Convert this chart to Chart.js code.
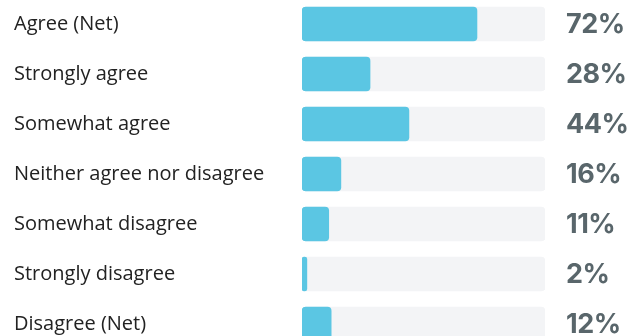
<!DOCTYPE html>
<html>
<head>
<meta charset="utf-8">
<script src="https://cdn.jsdelivr.net/npm/chart.js@4"></script>
<style>
  html, body { margin: 0; padding: 0; background: #fff; overflow: hidden; }
  #wrap { position: absolute; left: 0; top: -2px; width: 641px; height: 352px; }
</style>
</head>
<body>
<div id="wrap"><canvas id="chart"></canvas></div>
<script>
var labels = ['Agree (Net)', 'Strongly agree', 'Somewhat agree', 'Neither agree nor disagree',
              'Somewhat disagree', 'Strongly disagree', 'Disagree (Net)']
var values = [72, 28, 44, 16, 11, 2, 12]
var track = [100, 100, 100, 100, 100, 100, 100]

var valueLabels = {
  id: 'valueLabels',
  afterDatasetsDraw: function (chart) {
    var ctx = chart.ctx
    var meta = chart.getDatasetMeta(0)
    ctx.save()
    ctx.font = '700 27px Inter'
    ctx.letterSpacing = '-0.5px'
    ctx.fillStyle = '#59666b'
    ctx.textAlign = 'left'
    ctx.textBaseline = 'middle'
    meta.data.forEach(function (bar, i) {
      ctx.fillText(values[i] + '%', chart.chartArea.right + 21, bar.y + 1)
    })
    ctx.restore()
  }
}

new Chart(document.getElementById('chart'), {
  type: 'bar',
  data: {
    labels: labels,
    datasets: [{
      data: values,
      backgroundColor: '#5bc6e3',
      borderRadius: 4,
      borderSkipped: false,
      barThickness: 34,
      grouped: false
    }, {
      data: track,
      backgroundColor: '#f3f4f6',
      borderRadius: 4,
      borderSkipped: false,
      barThickness: 34,
      grouped: false
    }]
  },
  options: {
    indexAxis: 'y',
    responsive: true,
    maintainAspectRatio: false,
    animation: false,
    layout: { padding: { left: 14, right: 96, top: 0, bottom: 0 } },
    plugins: { legend: { display: false }, tooltip: { enabled: false } },
    scales: {
      x: { display: false, min: 0, max: 100 },
      y: {
        grid: { display: false },
        border: { display: false },
        afterFit: function (scale) { scale.width = 288 },
        ticks: {
          crossAlign: 'far',
          padding: 0,
          color: '#222222',
          font: { family: 'Open Sans', size: 20, lineHeight: 0.1 }
        }
      }
    }
  },
  plugins: [valueLabels]
})
</script>
</body>
</html>
